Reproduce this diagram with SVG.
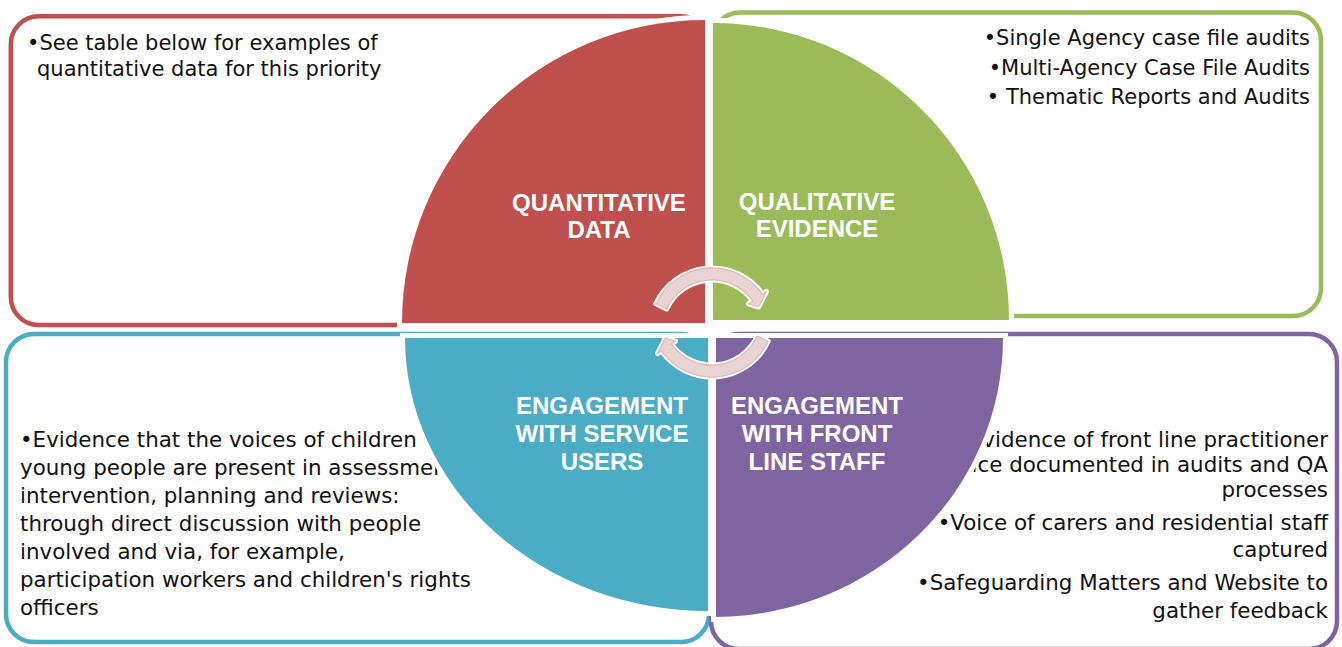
<svg xmlns="http://www.w3.org/2000/svg" xmlns:xlink="http://www.w3.org/1999/xlink" width="1342" height="647" viewBox="0 0 1342 647">
<style>
.box{fill:#fff;stroke-width:4.5}
.body{font-family:"DejaVu Sans",sans-serif;fill:#111}
.top{font-size:21px}
.bot{font-size:21.4px}
.pie{stroke:#fff;stroke-width:10;paint-order:stroke;stroke-linejoin:miter}
.lbl{font-family:"Liberation Sans",Arial,sans-serif;font-weight:bold;font-size:24px;fill:#fff;text-anchor:middle}
.arr{fill:#EAD3D3;stroke:#fff;stroke-width:5;stroke-linejoin:round;paint-order:stroke}
.arrRim{fill:none;stroke:#DAB9B9;stroke-width:1.2;stroke-linejoin:round}
</style>
<defs>
<path id="arrowShape" d="M655.8,303.8 A62,62 0 0 1 762.8,294.4 L766.5,291.5 L758.5,307 L748.5,303.8 L753,301.3 A50,50 0 0 0 666.7,308.9 Z"/>
</defs>
<rect width="1342" height="647" fill="#fff"/>

<g id="box-quantitative">
<rect class="box" x="10.8" y="16.3" width="698" height="308.7" rx="28" stroke="#C0504D"/>
<text class="body top" x="27" y="50">•See table below for examples of</text>
<text class="body top" x="37" y="76">quantitative data for this priority</text>
</g>
<g id="box-qualitative">
<rect class="box" x="712" y="12.5" width="609" height="303.5" rx="28" stroke="#9BBB59"/>
<text class="body top" x="1310" y="45" text-anchor="end">•Single Agency case file audits</text>
<text class="body top" x="1310" y="75" text-anchor="end">•Multi-Agency Case File Audits</text>
<text class="body top" x="1310" y="104" text-anchor="end">• Thematic Reports and Audits</text>
</g>
<g id="box-service-users">
<rect class="box" x="6" y="334" width="703" height="308" rx="28" stroke="#4BACC6"/>
<text class="body bot" x="20" y="447">•Evidence that the voices of children and</text>
<text class="body bot" x="20" y="475">young people are present in assessment,</text>
<text class="body bot" x="20" y="503">intervention, planning and reviews:</text>
<text class="body bot" x="20" y="531">through direct discussion with people</text>
<text class="body bot" x="20" y="559">involved and via, for example,</text>
<text class="body bot" x="20" y="587">participation workers and children's rights</text>
<text class="body bot" x="20" y="615">officers</text>
</g>
<g id="box-front-line">
<rect class="box" x="711" y="334" width="626" height="315" rx="28" stroke="#8064A2"/>
<text class="body bot" x="1328" y="447" text-anchor="end">•Evidence of front line practitioner</text>
<text class="body bot" x="1328" y="472" text-anchor="end">voice documented in audits and QA</text>
<text class="body bot" x="1328" y="497" text-anchor="end">processes</text>
<text class="body bot" x="1328" y="530" text-anchor="end">•Voice of carers and residential staff</text>
<text class="body bot" x="1328" y="557" text-anchor="end">captured</text>
<text class="body bot" x="1328" y="590" text-anchor="end">•Safeguarding Matters and Website to</text>
<text class="body bot" x="1328" y="618" text-anchor="end">gather feedback</text>
</g>

<g id="node-quantitative">
<path class="pie" fill="#C0504D" d="M705,323 L402,323 A303,303 0 0 1 705,20 Z"/>
<text class="lbl" x="599" y="211">QUANTITATIVE</text>
<text class="lbl" x="599" y="238">DATA</text>
</g>
<g id="node-qualitative">
<path class="pie" fill="#9BBB59" d="M713,320 L713,23 A296,297 0 0 1 1009,320 Z"/>
<text class="lbl" x="817" y="210">QUALITATIVE</text>
<text class="lbl" x="817" y="237">EVIDENCE</text>
</g>
<g id="node-service-users">
<path class="pie" fill="#4BACC6" d="M708,338 L708,611 A303,273 0 0 1 405,338 Z"/>
<text class="lbl" x="602" y="414">ENGAGEMENT</text>
<text class="lbl" x="602" y="442">WITH SERVICE</text>
<text class="lbl" x="602" y="470">USERS</text>
</g>
<g id="node-front-line">
<path class="pie" fill="#8064A2" d="M716,338 L1003,338 A289,279 0 0 1 716,617 Z"/>
<text class="lbl" x="817" y="414">ENGAGEMENT</text>
<text class="lbl" x="817" y="442">WITH FRONT</text>
<text class="lbl" x="817" y="470">LINE STAFF</text>
</g>

<g id="connectors">
<use xlink:href="#arrowShape" href="#arrowShape" class="arr"/>
<use xlink:href="#arrowShape" href="#arrowShape" class="arrRim"/>
<use xlink:href="#arrowShape" href="#arrowShape" class="arr" transform="rotate(180 712 322.5)"/>
<use xlink:href="#arrowShape" href="#arrowShape" class="arrRim" transform="rotate(180 712 322.5)"/>
</g>
</svg>
